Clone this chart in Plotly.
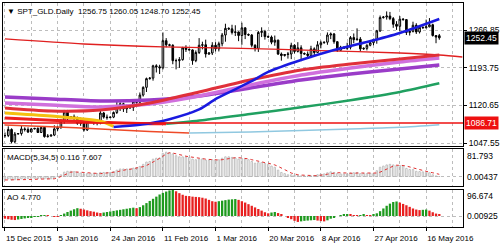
import plotly.graph_objects as go
from plotly.subplots import make_subplots
import pandas as pd

# ---------------- data ----------------
HOLIDAYS = ["2015-12-25", "2016-01-01", "2016-03-25"]
all_days = pd.date_range("2015-12-15", "2016-05-20", freq="D")
dates = [d for d in all_days if d.weekday() != 5 and d.strftime("%Y-%m-%d") not in HOLIDAYS]
IDX = list(range(len(dates)))

OPEN = [1062,1062,1074,1050,1065,1066,1075,1074,1069,1075,1076,1068,1078,1060,1061,1063,
        1075,1078,1091,1108,1097,1099,1096,1086,1086,1073,1089,1088,1088,1089,1106,1098,
        1097,1098,1107,1119,1124,1114,1116,1117,1128,1127,1141,1156,1173,1174,1198,1196,
        1194,1247,1239,1238,1208,1208,1210,1233,1230,1229,1208,1224,1238,1239,1221,1223,
        1238,1231,1241,1258,1271,1270,1263,1264,1257,1272,1259,1258,1238,1232,1263,1265,
        1255,1254,1244,1248,1221,1218,1220,1221,1238,1226,1233,1222,1221,1218,1231,1224,
        1239,1243,1244,1258,1260,1245,1228,1234,1232,1234,1253,1249,1250,1231,1232,1238,
        1243,1249,1266,1292,1293,1295,1290,1279,1275,1289,1288,1263,1265,1277,1264,1273,
        1272,1274,1278,1257,1256.75]
HIGH = [1068,1080,1076,1069,1067,1081,1078,1078,1077,1077,1078,1080,1079,1065,1064,1082,
        1081,1094,1112,1112,1100,1103,1099,1097,1091,1092,1091,1093,1093,1111,1108,1103,
        1099,1109,1128,1127,1126,1123,1118,1131,1131,1146,1158,1175,1176,1200,1201,1200,
        1263,1252,1241,1240,1212,1215,1235,1238,1232,1230,1228,1252,1245,1249,1224,1244,
        1244,1245,1262,1280,1273,1278,1277,1265,1282,1273,1261,1260,1240,1266,1273,1268,
        1257,1257,1257,1249,1224,1221,1225,1243,1240,1244,1238,1224,1226,1237,1234,1246,
        1247,1245,1263,1263,1262,1246,1237,1236,1243,1256,1261,1271,1254,1234,1240,1245,
        1251,1268,1296,1295,1304,1303,1293,1285,1295,1291,1289,1270,1284,1281,1277,1275,
        1288,1291,1280,1258,1260.05]
LOW = [1058,1059,1047,1047,1064,1062,1070,1067,1068,1074,1067,1067,1058,1058,1060,1061,
       1071,1075,1085,1092,1096,1092,1083,1081,1070,1071,1087,1083,1082,1084,1095,1093,
       1096,1096,1104,1110,1108,1106,1114,1110,1120,1124,1138,1147,1171,1169,1185,1182,
       1191,1234,1236,1201,1191,1194,1208,1225,1228,1200,1205,1221,1230,1214,1219,1219,
       1226,1226,1236,1245,1268,1259,1256,1246,1239,1250,1256,1234,1226,1225,1254,1249,
       1253,1240,1237,1219,1208,1216,1212,1211,1222,1224,1207,1220,1212,1213,1218,1223,
       1232,1241,1239,1250,1241,1225,1227,1231,1229,1230,1242,1247,1226,1229,1228,1236,
       1238,1241,1264,1290,1288,1287,1272,1268,1265,1286,1258,1257,1263,1260,1261,1271,
       1271,1273,1255,1242,1248.70]
CLOSE = [1062,1074,1050,1065,1066,1075,1074,1069,1075,1076,1068,1078,1060,1061,1063,1075,
         1078,1091,1108,1097,1099,1096,1086,1086,1073,1089,1088,1088,1089,1106,1098,1097,
         1098,1107,1119,1124,1114,1116,1117,1128,1127,1141,1156,1173,1174,1198,1196,1194,
         1247,1239,1238,1208,1208,1210,1233,1230,1229,1208,1224,1238,1239,1221,1223,1238,
         1231,1241,1258,1271,1270,1263,1264,1257,1272,1259,1258,1238,1232,1263,1265,1255,
         1254,1244,1248,1221,1218,1220,1221,1238,1226,1233,1222,1221,1218,1231,1224,1239,
         1243,1244,1258,1260,1245,1228,1234,1232,1234,1253,1249,1250,1231,1232,1238,1243,
         1249,1266,1292,1293,1295,1290,1279,1275,1289,1288,1263,1265,1277,1264,1273,1272,
         1274,1278,1257,1254,1252.45]

# moving-average style overlays, read at sampled bars (bar index, price)
RED_THIN_X = [0, 24, 48, 72, 96, 120, 132, 139]
RED_THIN_Y = [1250.3, 1240.5, 1234.7, 1232.0, 1227.5, 1223.0, 1219.1, 1215.2]
BAND_X = [0, 14, 29, 44, 59, 74.5, 90, 105, 120, 132]
PURPLE_Y = [1137.2, 1133.3, 1129.4, 1131.4, 1139.2, 1154.8, 1170.4, 1182.1, 1191.8, 1199.6]
VIOLET_Y = [1125.5, 1121.6, 1117.7, 1123.6, 1139.2, 1160.6, 1180.1, 1193.75, 1205.4, 1213.2]
RED_THICK_Y = [1115.8, 1110.0, 1111.9, 1125.5, 1147.0, 1170.4, 1189.9, 1201.5, 1211.3, 1219.1]
YELLOW_X = [0, 14, 29, 33]
YELLOW_Y = [1106, 1100, 1090, 1080]
BLUE_X = [33, 41, 50, 59, 64.5, 74.5, 80, 90, 100, 110, 120, 132]
BLUE_Y = [1078.8, 1083, 1094, 1113, 1135, 1166.5, 1186, 1209.3, 1228.8, 1244.4, 1262, 1289.3]
RED2_X = [0, 14, 29, 44, 49]
RED2_Y = [1096.3, 1092, 1088, 1085, 1085]
GREEN_X = [49, 60, 74.5, 90, 105, 120, 132]
GREEN_Y = [1085, 1092, 1104, 1117, 1131, 1147, 1164]
ORANGE_X = [0, 14, 29, 44, 56]
ORANGE_Y = [1082.7, 1079, 1075, 1070, 1067]
LBLUE_X = [56, 74.5, 90, 105, 120, 132]
LBLUE_Y = [1067, 1069, 1072, 1075, 1078, 1083]
HLINE = 1086.71

MACD_HIST = [-10,-8,-12,-11,-10,-8,-7,-7,-6,-6,-7,-6,-8,-8,-8,-5,
             0,6,15,18,18,17,14,12,9,10,10,10,10,14,14,14,
             14,17,22,26,26,26,26,29,30,35,42,50,52,60,63,64,
             80,84,82,78,72,68,68,67,66,60,58,60,61,57,56,58,
             57,58,63,68,68,66,64,60,62,60,58,52,46,48,48,45,
             42,36,32,22,14,10,6,6,4,4,2,2,0,2,3,6,
             8,9,13,16,14,10,9,9,9,12,13,14,10,10,10,11,
             10,20,32,36,40,42,40,36,38,36,28,24,24,18,17,16,
             14,13,6,2,0.116]
MACD_SIG = [-12,-12,-12,-12,-12,-11,-11,-10,-10,-10,-9,-9,-9,-9,-9,-8,
            -5,0,6,12,15,16,16,15,14,13,12,11,10,10,11,12,
            13,14,16,19,22,24,25,27,28,30,34,38,43,50,56,62,
            70,78,82,81,79,76,73,70,68,66,64,62,60,60,59,58,
            58,57,58,60,62,64,65,65,64,63,61,58,55,52,50,48,
            46,44,40,35,30,24,18,12,8,6,5,4,3,3,3,3,
            4,6,8,10,12,13,13,12,11,11,11,12,12,12,11,11,
            11,12,15,20,26,32,36,39,39,38,36,33,30,26,22,20,
            18,15,13,10,7.607]
AO = [-10,-12,-14,-15,-13,-11,-9,-7,-5,-3,-1,1,2,1,0,-1,
      -2,3,9,15,20,25,29,27,24,21,18,16,13,11,13,15,
      17,19,21,23,25,27,29,31,29,33,40,48,56,64,72,80,
      86,91,95,96.7,92,85,79,75,74,72,71,70,68,65,60,55,
      53,55,57,59,61,62,63,60,55,50,44,38,32,26,20,14,
      10,13,15,11,6,0,-6,-12,-18,-22,-20,-18,-17,-16,-15,-17,
      -19,-20,-16,-10,-4,0,3,5,6,5,3,1,2,4,3,2,
      4,10,18,28,38,46,52,54,50,45,40,34,28,24,22,23,
      24,20,14,9,4.77]

X_LABELS = ["15 Dec 2015", "5 Jan 2016", "24 Jan 2016", "11 Feb 2016", "1 Mar 2016",
            "20 Mar 2016", "8 Apr 2016", "27 Apr 2016", "16 May 2016"]
PRICE_TICKS = [1266.85, 1193.75, 1120.65, 1047.55]

# ---------------- figure ----------------
label_dates = [pd.Timestamp(s) for s in ["2015-12-15", "2016-01-05", "2016-01-24", "2016-02-11",
                                         "2016-03-01", "2016-03-20", "2016-04-08", "2016-04-27", "2016-05-16"]]
TICK_POS = [dates.index(d) for d in label_dates]

W, H = 500, 249
ML, MR, MT, MB = 3, 37, 3, 22
PH = H - MT - MB

def py(px):  # pixel row -> paper y
    return (H - MB - px) / PH

def pxx(px):
    return (px - ML) / (W - ML - MR)

fig = make_subplots(rows=3, cols=1, shared_xaxes=True)

FONT = "Liberation Sans"

def line(x, y, color, width, row=1, dash=None):
    fig.add_trace(go.Scatter(x=x, y=y, mode="lines",
                             line=dict(color=color, width=width, shape="spline", smoothing=0.8, dash=dash),
                             hoverinfo="skip"), row=row, col=1)

line(RED_THIN_X, RED_THIN_Y, "#e02020", 1.3)
line(BAND_X, PURPLE_Y, "#9a3cc8", 3.5)
line(BAND_X, VIOLET_Y, "#d070dd", 3.5)
line(BAND_X, RED_THICK_Y, "#e0303a", 3)
line(ORANGE_X, ORANGE_Y, "#ee4a28", 1.5)
line(LBLUE_X, LBLUE_Y, "#90c8e0", 1.5)
line(RED2_X, RED2_Y, "#ee2020", 3)
line(GREEN_X, GREEN_Y, "#20a060", 2.5)
line(YELLOW_X, YELLOW_Y, "#f4c010", 3)
line(BLUE_X, BLUE_Y, "#1a1ae0", 2.5)

fig.add_trace(go.Candlestick(
    x=IDX, open=OPEN, high=HIGH, low=LOW, close=CLOSE,
    increasing=dict(line=dict(color="black", width=1), fillcolor="white"),
    decreasing=dict(line=dict(color="black", width=1), fillcolor="black"),
    whiskerwidth=0, hoverinfo="skip"), row=1, col=1)

# MACD
fig.add_trace(go.Bar(x=IDX, y=MACD_HIST, width=0.45,
                     marker=dict(color="rgba(255,255,255,0)", line=dict(color="#b4b4b4", width=0.8)),
                     hoverinfo="skip"), row=2, col=1)
fig.add_trace(go.Scatter(x=IDX, y=MACD_SIG, mode="lines",
                         line=dict(color="#e03030", width=1, dash="dot"), hoverinfo="skip"), row=2, col=1)

# AO
ao_colors = []
for i, v in enumerate(AO):
    up = i > 0 and v > AO[i - 1]
    ao_colors.append("#1e9a1e" if up else "#e82020")
fig.add_trace(go.Bar(x=IDX, y=AO, width=0.7, marker=dict(color=ao_colors, line=dict(width=0)),
                     hoverinfo="skip"), row=3, col=1)

XR = [-0.6, 139.2]
grid = dict(showgrid=True, gridcolor="#bdbdbd", griddash="dot", gridwidth=1)
for i, ax in enumerate(["xaxis", "xaxis2", "xaxis3"]):
    fig.layout[ax].update(range=XR, showline=True, mirror=True, linecolor="black", linewidth=1,
                          tickvals=TICK_POS, ticktext=X_LABELS, zeroline=False, tickangle=0,
                          automargin=False,
                          minor=dict(dtick=8, tick0=0, showgrid=True, gridcolor="#bdbdbd", griddash="dot"),
                          showticklabels=(i == 2), ticks=("outside" if i == 2 else ""), ticklen=3,
                          tickcolor="black", ticklabelposition="outside right",
                          tickfont=dict(family=FONT, size=8, color="black"),
                          rangeslider=dict(visible=False), **grid)
fig.layout.xaxis3.ticklabelstandoff = 3

fig.layout.yaxis.update(domain=[py(146), 1.0], side="right", range=[1041.7, 1320.4],
                        tickvals=PRICE_TICKS, ticktext=[f"{v:.2f}" for v in PRICE_TICKS],
                        ticks="outside", ticklen=3, tickcolor="black", automargin=False,
                        showline=True, mirror=True, linecolor="black", zeroline=False,
                        tickfont=dict(family=FONT, size=8.5, color="black"), **grid)
fig.layout.yaxis2.update(domain=[py(186), py(149)], side="right", range=[-32.8, 95],
                         tickvals=[0], showticklabels=False, ticks="", automargin=False,
                         showline=True, mirror=True, linecolor="black", zeroline=False, **grid)
fig.layout.yaxis3.update(domain=[0, py(190)], side="right", range=[-40.9, 96.7],
                         tickvals=[0], showticklabels=False, ticks="", automargin=False,
                         showline=True, mirror=True, linecolor="black", zeroline=False, **grid)

fig.add_shape(type="line", xref="x domain", yref="y", x0=0, x1=1, y0=HLINE, y1=HLINE,
              line=dict(color="#ee1010", width=1.5))

ann = []
def text(x, y, s, size=8, **kw):
    ann.append(dict(x=x, y=y, xref="paper", yref="paper", text=s, showarrow=False,
                    xanchor="left", yanchor="middle", font=dict(family=FONT, size=size, color="black"), **kw))

text(pxx(5), py(12), "▼ SPT_GLD.Daily  1256.75 1260.05 1248.70 1252.45")
text(pxx(5), py(157), "MACD(5,34,5) 0.116 7.607")
text(pxx(5), py(197), "AO 4.770")
text(1.0, py(156), "81.793", size=8.5, xshift=2)
text(1.0, py(176.5), "0.00437", size=8.5, xshift=2)
text(1.0, py(196), "96.674", size=8.5, xshift=2)
text(1.0, py(216), "0.00925", size=8.5, xshift=2)

for val, bg in [(1252.45, "black"), (HLINE, "#ee1010")]:
    ann.append(dict(x=1.0, y=val, xref="paper", yref="y", text=f"{val:.2f}", showarrow=False,
                    xanchor="left", yanchor="middle", xshift=1, bgcolor=bg, borderpad=1,
                    font=dict(family=FONT, size=8.5, color="white")))

fig.update_layout(width=W, height=H, margin=dict(l=ML, r=MR, t=MT, b=MB, autoexpand=False),
                  paper_bgcolor="white", plot_bgcolor="white", showlegend=False,
                  annotations=ann, bargap=0.3)

fig.write_html("out.html")
